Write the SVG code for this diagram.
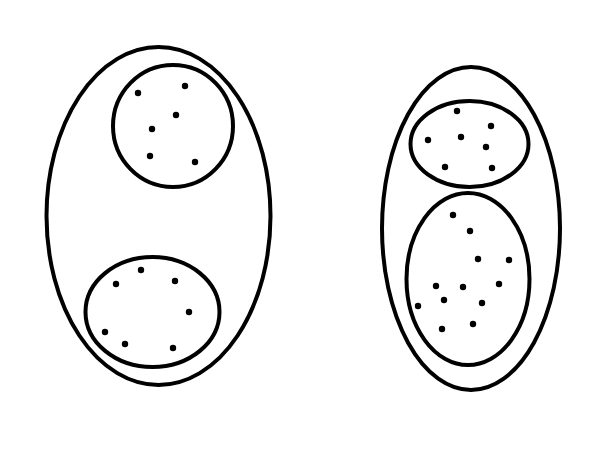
<svg xmlns="http://www.w3.org/2000/svg" width="615" height="466" viewBox="0 0 615 466">
<style>
.e{fill:none;stroke:#000;stroke-width:4}
.d{fill:#000}
</style>
<rect width="615" height="466" fill="#fff"/>
<g id="left-set">
<ellipse class="e" cx="158.5" cy="216" rx="112" ry="169"/>
<g id="left-top">
<ellipse class="e" cx="173" cy="126" rx="60" ry="61"/>
<g class="d"><circle cx="138" cy="93" r="3.2"/><circle cx="185" cy="86" r="3.2"/><circle cx="176" cy="115" r="3.2"/><circle cx="152" cy="129" r="3.2"/><circle cx="150" cy="156" r="3.2"/><circle cx="195" cy="162" r="3.2"/></g>
</g>
<g id="left-bottom">
<ellipse class="e" cx="152.5" cy="312" rx="67" ry="55"/>
<g class="d"><circle cx="141" cy="270" r="3.2"/><circle cx="116" cy="284" r="3.2"/><circle cx="175" cy="281" r="3.2"/><circle cx="189" cy="312" r="3.2"/><circle cx="105" cy="332" r="3.2"/><circle cx="125" cy="344" r="3.2"/><circle cx="173" cy="348" r="3.2"/></g>
</g>
</g>
<g id="right-set">
<ellipse class="e" cx="471" cy="228.5" rx="89" ry="161.5"/>
<g id="right-top">
<ellipse class="e" cx="469.5" cy="144" rx="59" ry="43"/>
<g class="d"><circle cx="457" cy="111" r="3.2"/><circle cx="491" cy="126" r="3.2"/><circle cx="428" cy="140" r="3.2"/><circle cx="461" cy="137" r="3.2"/><circle cx="486" cy="147" r="3.2"/><circle cx="445" cy="167" r="3.2"/><circle cx="492" cy="168" r="3.2"/></g>
</g>
<g id="right-bottom">
<ellipse class="e" cx="468" cy="279" rx="61.5" ry="86"/>
<g class="d"><circle cx="453" cy="215" r="3.2"/><circle cx="470" cy="231" r="3.2"/><circle cx="478" cy="259" r="3.2"/><circle cx="509" cy="260" r="3.2"/><circle cx="436" cy="286" r="3.2"/><circle cx="463" cy="287" r="3.2"/><circle cx="499" cy="284" r="3.2"/><circle cx="444" cy="300" r="3.2"/><circle cx="418" cy="306" r="3.2"/><circle cx="482" cy="303" r="3.2"/><circle cx="473" cy="324" r="3.2"/><circle cx="442" cy="329" r="3.2"/></g>
</g>
</g>
<g id="connectors"/>
</svg>
